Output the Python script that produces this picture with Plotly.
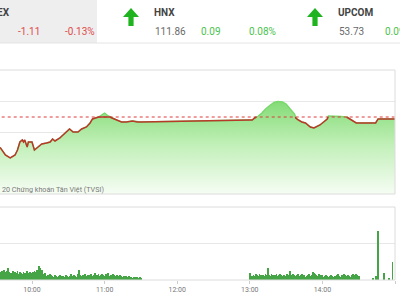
import plotly.graph_objects as go
import pandas as pd

DAY = "2020-06-15 "

# ---------------- data ----------------
price_times = ["09:30", "09:34", "09:38", "09:42", "09:46", "09:48", "09:50", "09:52", "09:53",
               "09:54", "09:56", "09:57", "10:00", "10:01", "10:02", "10:05", "10:08", "10:12",
               "10:15", "10:17", "10:19", "10:23", "10:27", "10:31", "10:34", "10:38", "10:41",
               "10:45", "10:48", "10:50", "10:55", "10:58", "11:00", "11:03", "11:06", "11:10",
               "11:14", "11:18", "11:23", "11:27", "11:30",
               "13:00", "13:02", "13:04", "13:07", "13:10", "13:13", "13:17", "13:20", "13:23",
               "13:27", "13:30", "13:33", "13:37", "13:38", "13:40", "13:43", "13:46", "13:50",
               "13:53", "13:55", "13:58", "14:01", "14:04", "14:05", "14:10", "14:15", "14:20",
               "14:23", "14:25", "14:28", "14:44", "14:46", "15:00"]
price_values = [847.74, 847.42, 846.29, 845.81, 846.29, 847.10, 848.39, 848.71, 848.39,
                848.71, 847.58, 848.39, 848.39, 847.58, 847.10, 847.58, 848.06, 848.23,
                848.39, 848.87, 848.55, 849.03, 849.84, 850.48, 850.00, 850.00, 850.48,
                850.81, 851.45, 852.10, 852.42, 852.74, 853.06, 852.58, 852.26, 851.94,
                851.61, 851.61, 851.77, 851.61, 851.61,
                851.94, 851.94, 852.26, 852.58, 853.06, 853.71, 854.35, 854.76, 854.92,
                854.84, 854.52, 853.87, 852.90, 852.26, 851.94, 851.61, 851.45, 850.81,
                850.65, 850.81, 851.13, 851.61, 852.10, 852.58, 852.58, 852.50, 852.42,
                852.10, 851.77, 851.45, 851.45, 852.10, 852.10]
ref_value = 852.42

vol_morning_start = "09:34"
vol_morning = [8, 9, 7, 10, 8, 9, 12, 8, 7,
               7, 9, 6, 8, 7, 9, 6, 8, 7, 6, 8, 7, 6, 9, 7, 8, 6,
               7, 8, 9, 8, 10, 9,
               14, 12, 10,
               6, 5, 7, 4, 5, 4, 6, 5,
               4, 3, 5, 4, 3, 4, 5, 3, 4, 4, 3, 5, 4, 3, 4, 6, 4, 3, 5, 4, 3,
               6, 10, 5, 4,
               5, 4, 6, 4, 5, 3, 5, 6, 4, 5, 7, 4, 5, 6, 4, 5, 6,
               5, 4, 6, 5, 7, 4, 5, 4, 6, 5, 4, 5, 4, 3, 5, 4, 3, 4, 3, 4,
               3, 4, 3, 3, 2, 3, 3, 2, 3, 2, 3, 2]
vol_afternoon_start = "13:00"
vol_afternoon = [7, 3, 4, 5, 4, 6, 5, 4, 6, 5, 4,
                 5, 4, 6, 5, 12, 5, 4, 6, 5, 4,
                 5, 6, 4, 5, 6, 5, 4, 5, 3, 4,
                 6, 5, 9, 5, 4, 6, 5, 4, 5, 6,
                 4, 5, 6, 4, 5, 3, 4, 5, 6, 4,
                 5, 8, 7, 6, 5, 4, 6, 5, 4, 5,
                 3, 4, 5, 4, 3, 4, 5, 4, 3, 4,
                 4, 5, 6, 4, 3, 5, 4, 6, 5, 4,
                 5, 4, 3, 5, 6, 4, 5, 6, 5, 4]
atc_times = ["14:42", "14:44", "14:46", "14:51", "14:55", "14:58"]
atc_volumes = [2, 4, 48, 7, 2, 18]

tick_labels = ["10:00", "11:00", "12:00", "13:00", "14:00", "15:00"]

header_items = [
    # name, value, change, pct, color
    ("VN-INDEX", None, "-1.11", "-0.13%", "#e04b4b"),
    ("HNX", "111.86", "0.09", "0.08%", "#4cc24c"),
    ("UPCOM", "53.73", "0.09", "0.09%", "#4cc24c"),
]

# ---------------- helpers ----------------
W_PLOT = 395.0
H_PLOT = 280.0
def px(x):
    return x / W_PLOT
def py(y):
    return (H_PLOT - y) / H_PLOT

t = list(pd.to_datetime([DAY + s for s in price_times]))
v = price_values

# red segments (below reference), with crossing points
xr, yr = [], []
for i in range(len(v)):
    if i > 0:
        a, b = v[i - 1], v[i]
        if (a - ref_value) * (b - ref_value) < 0:
            f = (ref_value - a) / (b - a)
            tc = t[i - 1] + (t[i] - t[i - 1]) * f
            xr.append(tc); yr.append(ref_value)
            if b > ref_value:
                xr.append(None); yr.append(None)
    if v[i] <= ref_value:
        xr.append(t[i]); yr.append(v[i])

vm_t = pd.date_range(DAY + vol_morning_start, periods=len(vol_morning), freq="min")
va_t = pd.date_range(DAY + vol_afternoon_start, periods=len(vol_afternoon), freq="min")
atc_t = pd.to_datetime([DAY + s for s in atc_times])

fig = go.Figure()

fig.add_trace(go.Scatter(
    x=t, y=v, mode="lines", fill="tozeroy",
    line=dict(color="#79d86c", width=1.4),
    fillgradient=dict(type="vertical", start=840, stop=855.5,
                      colorscale=[[0, "#f6fdf4"], [0.5, "#c3f0ba"], [1, "#7fda71"]]),
    xaxis="x", yaxis="y", hoverinfo="skip"))
fig.add_trace(go.Scatter(
    x=[t[0], DAY + "15:00"], y=[ref_value, ref_value], mode="lines",
    line=dict(color="#e03a3a", width=1, dash="dot"),
    xaxis="x", yaxis="y", hoverinfo="skip"))
fig.add_trace(go.Scatter(
    x=xr, y=yr, mode="lines", connectgaps=False,
    line=dict(color="#b8392a", width=1.5),
    xaxis="x", yaxis="y", hoverinfo="skip"))

bar_style = dict(marker=dict(color="#45a445", line=dict(width=0)), width=42000,
                 xaxis="x", yaxis="y2", hoverinfo="skip")
fig.add_trace(go.Bar(x=vm_t, y=vol_morning, **bar_style))
fig.add_trace(go.Bar(x=va_t, y=vol_afternoon, **bar_style))
fig.add_trace(go.Bar(x=atc_t, y=atc_volumes, **bar_style))

shapes = []
# panel frames
for y0, y1 in [(70, 194), (207, 280)]:
    shapes.append(dict(type="rect", xref="paper", yref="paper",
                       x0=-0.02, x1=1, y0=py(y1), y1=py(y0),
                       line=dict(color="#dcdcdc", width=1), layer="above"))
# header
shapes.append(dict(type="rect", xref="paper", yref="paper", x0=-0.01, x1=px(97),
                   y0=py(43), y1=1.01, fillcolor="#eeeeee", line=dict(width=0)))
shapes.append(dict(type="line", xref="paper", yref="paper", x0=-0.01, x1=px(401),
                   y0=py(43), y1=py(43), line=dict(color="#e4e4e4", width=1)))

def arrow(cx):
    pts = [(cx, 8), (cx + 8, 17), (cx + 2.6, 17), (cx + 2.6, 26), (cx - 2.6, 26),
           (cx - 2.6, 17), (cx - 8, 17)]
    d = "M " + " L ".join(f"{px(a):.5f},{py(b):.5f}" for a, b in pts) + " Z"
    return dict(type="path", xref="paper", yref="paper", path=d,
                fillcolor="#1fb41f", line=dict(width=0))
shapes.append(arrow(131))
shapes.append(arrow(315))

anns = []
def ann(text, x, y, color, size=10, bold=False, xanchor="left"):
    anns.append(dict(text=f"<b>{text}</b>" if bold else text, x=px(x), y=py(y),
                     xref="paper", yref="paper", xanchor=xanchor, yanchor="middle",
                     showarrow=False, font=dict(family="Roboto", size=size, color=color)))

ann(header_items[0][0], 11.5, 12.5, "#444444", 10, True, "right")
ann(header_items[0][2], 16, 31, header_items[0][4])
ann(header_items[0][3], 63, 31, header_items[0][4])
for (name, val, chg, pct, col), x0 in [(header_items[1], 152), (header_items[2], 336)]:
    ann(name, x0, 12.5, "#444444", 10, True)
    ann(val, x0 + 0.5, 31, "#6a6a6a")
    ann(chg, x0 + 47, 31, col)
    ann(pct, x0 + 95, 31, col)

ann("20 Chứng khoán Tân Việt (TVSI)", 0, 189, "#7a7a7a", 7.2)

fig.update_layout(
    width=400, height=300, margin=dict(l=0, r=5, t=0, b=20),
    paper_bgcolor="white", plot_bgcolor="white", showlegend=False, bargap=0,
    font=dict(family="Roboto"),
    xaxis=dict(type="date", anchor="y2",
               range=[DAY + "09:33:33", DAY + "15:00"],
               tickvals=[DAY + s for s in tick_labels], ticktext=tick_labels,
               tickfont=dict(size=7, color="#777777"),
               ticks="outside", ticklen=3, tickcolor="#cccccc",
               showgrid=False, showline=False, zeroline=False),
    yaxis=dict(domain=[py(194), py(70)], range=[840, 860], tickvals=[845, 850, 855],
               showticklabels=False, gridcolor="#e8e8e8", zeroline=False),
    yaxis2=dict(domain=[0, py(207)], range=[0, 72], tickvals=[36],
                showticklabels=False, gridcolor="#e8e8e8", zeroline=False),
    shapes=shapes, annotations=anns,
)

fig.write_html("out.html")
